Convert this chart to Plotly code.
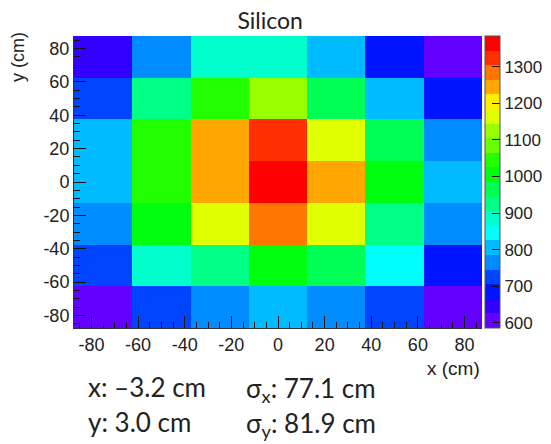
import colorsys
import plotly.graph_objects as go

# ---- data ----
x_centers = [-75, -50, -25, 0, 25, 50, 75]
y_centers = [-75, -50, -25, 0, 25, 50, 75]
# rows from y = -75 (bottom) to y = 75 (top)
row_m75 = [586, 730, 770, 805, 765, 720, 605]
row_m50 = [725, 885, 930, 1010, 965, 845, 690]
row_m25 = [770, 1005, 1170, 1290, 1160, 935, 770]
row_0 = [805, 1040, 1245, 1384, 1240, 1010, 810]
row_25 = [810, 1045, 1250, 1330, 1165, 950, 765]
row_50 = [725, 925, 1050, 1120, 960, 800, 690]
row_75 = [645, 770, 885, 890, 805, 690, 600]
z = [row_m75, row_m50, row_m25, row_0, row_25, row_50, row_75]

x_ticks = [-80, -60, -40, -20, 0, 20, 40, 60, 80]
x_labels = ["-80", "-60", "-40", "-20", "0", "20", "40", "60", "80"]
y_ticks = [-80, -60, -40, -20, 0, 20, 40, 60, 80]
y_labels = ["-80", "-60", "-40", "-20", "0", "20", "40", "60", "80"]
cbar_ticks = [600, 700, 800, 900, 1000, 1100, 1200, 1300]
zmin, zmax = 586, 1384
title_text = "Silicon"
stat_x_mean = "x: \u20133.2 cm"
stat_x_sigma = "\u03c3<sub>x</sub>: 77.1 cm"
stat_y_mean = "y: 3.0 cm"
stat_y_sigma = "\u03c3<sub>y</sub>: 81.9 cm"

# ---- ROOT "pretty" palette (50 colours, violet->red) with 20 contours ----
n_pal, n_cont = 50, 20
pal = []
for i in range(n_pal):
    hue = 280 - (i + 1) * (280 / n_pal)
    r, g, b = colorsys.hls_to_rgb(hue / 360.0, 0.5, 1.0)
    pal.append("rgb(%d,%d,%d)" % (round(r * 255), round(g * 255), round(b * 255)))
colorscale = []
for i in range(n_cont):
    idx = int(0.01 + (i + 0.99) * n_pal / n_cont)
    idx = min(idx, n_pal - 1)
    c = pal[idx]
    colorscale.append([i / n_cont, c])
    colorscale.append([(i + 1) / n_cont, c])

font_ax = "Liberation Sans"
font_txt = "Lato"

# page body has an 8px margin; work in window pixels and convert
OFF = 8
FW, FH = 551 - OFF, 444 - OFF
L, T = 74 - OFF, 36 - OFF      # plot area top-left in figure px
PW, PH = 408, 292              # plot area size


def px(xw):
    return (xw - OFF - L) / PW


def py(yw):
    return 1 - (yw - OFF - T) / PH


fig = go.Figure(go.Heatmap(
    x=x_centers, y=y_centers, z=z,
    zmin=zmin, zmax=zmax,
    colorscale=colorscale,
    xgap=0, ygap=0,
    colorbar=dict(
        x=px(485), xanchor="left", xpad=0,
        y=0.5, yanchor="middle", len=1.0, ypad=0,
        thickness=15, outlinewidth=1, outlinecolor="#555",
        tickvals=cbar_ticks, ticks="inside", ticklen=8, tickcolor="#111",
        tickfont=dict(family=font_ax, size=17, color="#222"),
    ),
))

fig.update_layout(
    width=FW, height=FH,
    margin=dict(l=L, r=FW - L - PW, t=T, b=FH - T - PH, autoexpand=False),
    paper_bgcolor="white", plot_bgcolor="white",
    title=dict(text=title_text, x=px(271), xanchor="center", y=1 - (21 - OFF) / FH, yanchor="middle",
               font=dict(family=font_txt, size=23, color="#222")),
    xaxis=dict(range=[-87.5, 87.5], tickvals=x_ticks, ticktext=x_labels,
               ticks="inside", ticklen=12,
               tickcolor="#111", showline=True, linecolor="#333", mirror=False,
               showgrid=False, zeroline=False,
               minor=dict(dtick=5, tick0=0, ticks="inside", ticklen=6, tickcolor="#111"),
               tickfont=dict(family=font_ax, size=18, color="#222")),
    yaxis=dict(range=[-87.5, 87.5], tickvals=y_ticks, ticktext=y_labels,
               ticks="inside", ticklen=12,
               tickcolor="#111", showline=True, linecolor="#333", mirror=False,
               showgrid=False, zeroline=False,
               minor=dict(dtick=5, tick0=0, ticks="inside", ticklen=6, tickcolor="#111"),
               tickfont=dict(family=font_ax, size=18, color="#222")),
    annotations=[
        dict(text="y (cm)", textangle=-90, xref="paper", yref="paper",
             x=px(18), y=py(30), xanchor="center", yanchor="top",
             showarrow=False, font=dict(family=font_ax, size=18, color="#222")),
        dict(text="x (cm)", xref="paper", yref="paper",
             x=px(482), y=py(368), xanchor="right", yanchor="middle",
             showarrow=False, font=dict(family=font_ax, size=19, color="#222")),
        dict(text=stat_x_mean, xref="paper", yref="paper",
             x=px(86), y=py(387), xanchor="left", yanchor="middle",
             showarrow=False, font=dict(family=font_txt, size=26, color="#222")),
        dict(text=stat_x_sigma, xref="paper", yref="paper",
             x=px(244), y=py(389), xanchor="left", yanchor="middle",
             showarrow=False, font=dict(family=font_txt, size=26, color="#222")),
        dict(text=stat_y_mean, xref="paper", yref="paper",
             x=px(86), y=py(422), xanchor="left", yanchor="middle",
             showarrow=False, font=dict(family=font_txt, size=26, color="#222")),
        dict(text=stat_y_sigma, xref="paper", yref="paper",
             x=px(244), y=py(424), xanchor="left", yanchor="middle",
             showarrow=False, font=dict(family=font_txt, size=26, color="#222")),
    ],
)

fig.write_html("out.html")
